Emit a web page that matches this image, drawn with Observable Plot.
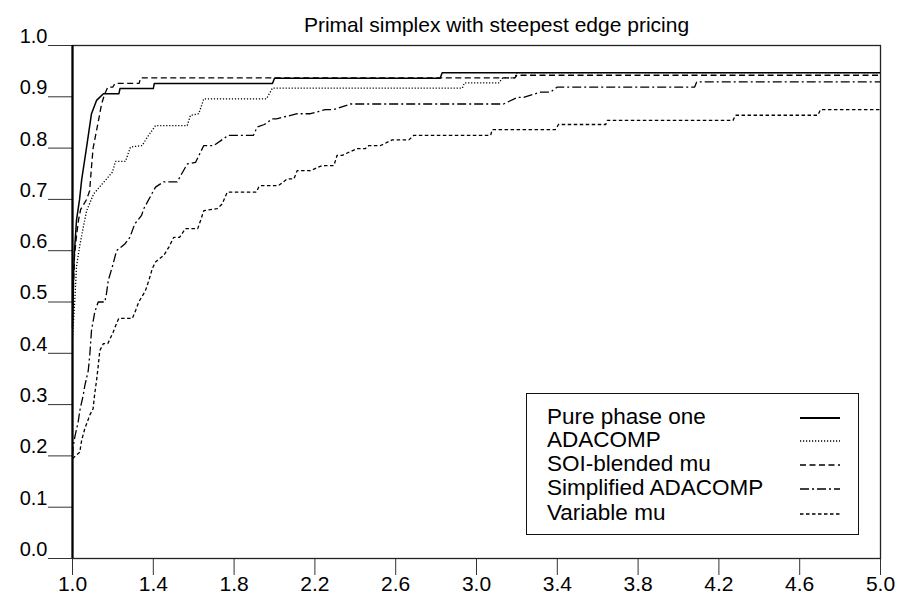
<!DOCTYPE html>
<html>
<head>
<meta charset="utf-8">
<script src="https://cdn.jsdelivr.net/npm/d3@7"></script>
<script src="https://cdn.jsdelivr.net/npm/@observablehq/plot@0.6"></script>
<style>
  html, body { margin: 0; padding: 0; background: #fff; }
  #wrap { position: relative; width: 903px; height: 600px; font-family: "Liberation Sans", Arial, sans-serif; }
  #legend { position: absolute; left: 526px; top: 393px; width: 333px; height: 142px; border: 1.3px solid #111; box-sizing: border-box; background: #fff; }
  .row { position: absolute; left: 20px; font-size: 22.5px; line-height: 22px; color: #000; white-space: nowrap; }
  .sample { position: absolute; left: 273px; }
</style>
</head>
<body>
<div id="wrap"></div>
<script>
const titleText = "Primal simplex with steepest edge pricing";
const xTicks = [1.0, 1.4, 1.8, 2.2, 2.6, 3.0, 3.4, 3.8, 4.2, 4.6, 5.0];
const yTicks = [0.0, 0.1, 0.2, 0.3, 0.4, 0.5, 0.6, 0.7, 0.8, 0.9, 1.0];
const seriesNames = ["Pure phase one", "ADACOMP", "SOI-blended mu", "Simplified ADACOMP", "Variable mu"];

const phaseOneX = [1.0, 1.005, 1.01, 1.02, 1.035, 1.045, 1.069, 1.094, 1.119, 1.153, 1.23, 1.235, 1.40, 1.405, 1.99, 2.0, 2.82, 2.83, 5.0];
const phaseOneY = [0.45, 0.55, 0.60, 0.66, 0.70, 0.737, 0.80, 0.867, 0.893, 0.906, 0.906, 0.916, 0.916, 0.926, 0.926, 0.936, 0.936, 0.947, 0.947];

const adacompX = [1.0, 1.003, 1.011, 1.02, 1.036, 1.053, 1.07, 1.105, 1.147, 1.197, 1.213, 1.262, 1.287, 1.345, 1.37, 1.411, 1.568, 1.584, 1.625, 1.65, 1.96, 1.99, 2.93, 2.94, 3.11, 3.13, 3.19, 3.2, 5.0];
const adacompY = [0.43, 0.45, 0.50, 0.57, 0.61, 0.645, 0.678, 0.711, 0.73, 0.753, 0.774, 0.774, 0.802, 0.805, 0.821, 0.844, 0.844, 0.864, 0.867, 0.896, 0.896, 0.917, 0.917, 0.927, 0.927, 0.937, 0.937, 0.947, 0.947];

const soiX = [1.0, 1.005, 1.01, 1.02, 1.03, 1.04, 1.07, 1.085, 1.094, 1.102, 1.119, 1.135, 1.144, 1.16, 1.175, 1.2, 1.21, 1.33, 1.337, 3.19, 3.2, 5.0];
const soiY = [0.47, 0.53, 0.59, 0.63, 0.66, 0.68, 0.70, 0.717, 0.763, 0.80, 0.834, 0.867, 0.886, 0.906, 0.919, 0.919, 0.926, 0.926, 0.937, 0.937, 0.942, 0.942];

const simpleX = [1.0, 1.003, 1.011, 1.028, 1.036, 1.053, 1.061, 1.078, 1.086, 1.094, 1.11, 1.127, 1.16, 1.168, 1.177, 1.201, 1.218, 1.259, 1.284, 1.308, 1.342, 1.353, 1.411, 1.45, 1.518, 1.568, 1.609, 1.65, 1.70, 1.772, 1.896, 1.914, 1.95, 1.989, 2.01, 2.112, 2.178, 2.252, 2.292, 2.376, 3.134, 3.203, 3.233, 3.317, 3.366, 3.40, 4.08, 4.09, 5.0];
const simpleY = [0.20, 0.217, 0.236, 0.266, 0.288, 0.318, 0.337, 0.366, 0.399, 0.444, 0.48, 0.50, 0.50, 0.516, 0.542, 0.574, 0.60, 0.613, 0.626, 0.652, 0.669, 0.682, 0.724, 0.734, 0.734, 0.769, 0.772, 0.805, 0.805, 0.825, 0.825, 0.841, 0.846, 0.857, 0.857, 0.867, 0.867, 0.875, 0.875, 0.886, 0.886, 0.899, 0.899, 0.909, 0.909, 0.919, 0.919, 0.929, 0.929];

const varMuX = [1.0, 1.036, 1.045, 1.061, 1.086, 1.102, 1.11, 1.119, 1.127, 1.135, 1.153, 1.175, 1.201, 1.218, 1.229, 1.296, 1.312, 1.328, 1.361, 1.378, 1.395, 1.411, 1.452, 1.477, 1.501, 1.53, 1.559, 1.62, 1.634, 1.65, 1.716, 1.741, 1.766, 1.91, 1.922, 1.93, 2.02, 2.063, 2.096, 2.112, 2.178, 2.236, 2.294, 2.31, 2.335, 2.409, 2.45, 2.467, 2.525, 2.583, 2.665, 2.69, 3.07, 3.078, 3.39, 3.406, 3.64, 3.647, 4.27, 4.282, 4.69, 4.703, 5.0];
const varMuY = [0.195, 0.207, 0.23, 0.253, 0.28, 0.292, 0.321, 0.347, 0.374, 0.405, 0.419, 0.419, 0.441, 0.458, 0.468, 0.468, 0.483, 0.50, 0.522, 0.542, 0.565, 0.578, 0.591, 0.607, 0.626, 0.626, 0.643, 0.643, 0.659, 0.678, 0.682, 0.691, 0.714, 0.714, 0.724, 0.727, 0.727, 0.74, 0.74, 0.756, 0.756, 0.766, 0.766, 0.786, 0.786, 0.799, 0.799, 0.805, 0.805, 0.816, 0.816, 0.825, 0.825, 0.836, 0.836, 0.846, 0.846, 0.854, 0.854, 0.864, 0.864, 0.875, 0.875];

const styles = [
  {dash: null, width: 1.5},
  {dash: "1.2,1.8", width: 1.3},
  {dash: "6,3.5", width: 1.3},
  {dash: "9,3,2,3", width: 1.3},
  {dash: "3.5,2.5", width: 1.3}
];

const toRows = (xs, ys) => xs.map((x, i) => ({x, y: ys[i]}));
const series = [
  toRows(phaseOneX, phaseOneY),
  toRows(adacompX, adacompY),
  toRows(soiX, soiY),
  toRows(simpleX, simpleY),
  toRows(varMuX, varMuY)
];

const fmt = d => d.toFixed(1);
const font = "Liberation Sans, Arial, sans-serif";

const chart = Plot.plot({
  width: 903,
  height: 600,
  marginLeft: 72,
  marginRight: 23,
  marginTop: 45,
  marginBottom: 42,
  style: {fontFamily: font, background: "#fff", color: "#000", overflow: "visible"},
  x: {domain: [1, 5], label: null},
  y: {domain: [0, 1], label: null},
  marks: [
    Plot.axisY({ticks: yTicks, tickSize: 24, tickFormat: () => "", stroke: "#333", label: null}),
    Plot.axisY({ticks: yTicks, tickSize: 0, tickPadding: 25, dy: -9, fontSize: 20, tickFormat: fmt, fill: "#000", label: null}),
    Plot.axisX({ticks: xTicks, tickSize: 17, tickPadding: 1, fontSize: 21, tickFormat: fmt, stroke: "#333", fill: "#000", label: null}),
    ...series.map((rows, i) => Plot.line(rows, {
      x: "x", y: "y", stroke: "#000",
      strokeWidth: styles[i].width,
      strokeDasharray: styles[i].dash,
      strokeLinecap: "butt"
    })),
    Plot.frame({stroke: "#222", strokeWidth: 1.3}),
    Plot.ruleX([1], {stroke: "#000", strokeWidth: 2.2}),
    Plot.text([titleText], {frameAnchor: "top", dx: 20, dy: -28, fontSize: 21, fill: "#000"})
  ]
});

const wrap = document.getElementById("wrap");
wrap.appendChild(chart);

const legend = document.createElement("div");
legend.id = "legend";
const rowTops = [12, 35, 59, 83, 108];
seriesNames.forEach((name, i) => {
  const r = document.createElement("div");
  r.className = "row";
  r.style.top = (rowTops[i]) + "px";
  r.textContent = name;
  legend.appendChild(r);
  const ns = "http://www.w3.org/2000/svg";
  const s = document.createElementNS(ns, "svg");
  s.setAttribute("class", "sample");
  s.setAttribute("width", "42");
  s.setAttribute("height", "10");
  s.style.top = (rowTops[i] + 7) + "px";
  const l = document.createElementNS(ns, "line");
  l.setAttribute("x1", "0"); l.setAttribute("x2", "40");
  l.setAttribute("y1", "5"); l.setAttribute("y2", "5");
  l.setAttribute("stroke", "#000");
  l.setAttribute("stroke-width", i === 0 ? 2 : 1.4);
  if (styles[i].dash) l.setAttribute("stroke-dasharray", styles[i].dash);
  s.appendChild(l);
  legend.appendChild(s);
});
wrap.appendChild(legend);
</script>
</body>
</html>
